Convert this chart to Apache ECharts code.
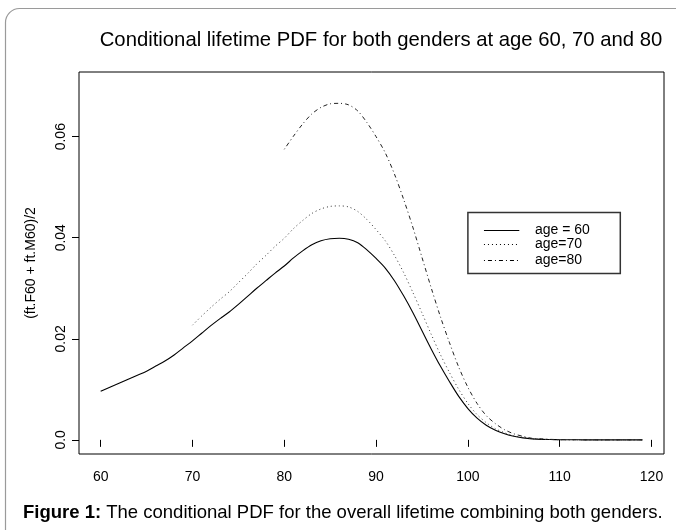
<!DOCTYPE html>
<html><head><meta charset="utf-8">
<script src="https://cdn.jsdelivr.net/npm/echarts@6/dist/echarts.min.js"></script>
<style>html,body{margin:0;padding:0;background:#fff}#c{width:676px;height:530px}</style>
</head><body><div id="c"></div>
<script>
const titleText = 'Conditional lifetime PDF for both genders at age 60, 70 and 80';
const yAxisName = '(ft.F60 + ft.M60)/2';
const captionBold = 'Figure 1:';
const captionRest = ' The conditional PDF for the overall lifetime combining both genders.';
const xTicks = [60, 70, 80, 90, 100, 110, 120];
const yTicks = [0, 0.02, 0.04, 0.06];
const legendNames = ['age = 60', 'age=70', 'age=80'];

const start60 = 60;
const pdf60 = [0.0096,0.0104,0.0112,0.0120,0.0128,0.0136,0.0146,0.0156,0.0168,0.0182,
  0.0196,0.0211,0.0226,0.0240,0.0253,0.0268,0.0284,0.0300,0.0315,0.0330,
  0.0344,0.0360,0.0374,0.0386,0.0394,0.0398,0.0399,0.0397,0.0390,0.0376,
  0.0359,0.0340,0.0315,0.0285,0.0252,0.0216,0.0180,0.0146,0.0115,0.0086,
  0.0062,0.0043,0.0029,0.0019,0.0012,0.0007,0.0004,0.0002,0.0001,0.00006,
  0.00003,0.00002,0.00001,0,0,0,0,0,0,0];
const start70 = 70;
const pdf70 = [0.0227,0.0245,0.0262,0.0278,0.0293,0.0311,0.0329,0.0348,0.0365,0.0383,
  0.0399,0.0418,0.0434,0.0448,0.0457,0.0462,0.0463,0.0461,0.0452,0.0436,
  0.0416,0.0394,0.0365,0.0331,0.0292,0.0251,0.0209,0.0169,0.0133,0.0100,
  0.0072,0.0050,0.0034,0.0022,0.0014,0.0008,0.0005,0.0002,0.0001,0.00007,
  0.00003,0.00002,0.00001,0,0,0,0,0,0,0];
const start80 = 80;
const pdf80 = [0.0575,0.0601,0.0625,0.0645,0.0658,0.0665,0.0666,0.0663,0.0651,0.0628,
  0.0600,0.0568,0.0526,0.0476,0.0421,0.0361,0.0301,0.0244,0.0192,0.0144,
  0.0104,0.0072,0.0048,0.0032,0.0020,0.0012,0.0007,0.0003,0.0002,0.0001,
  0.00005,0.00003,0.00002,0,0,0,0,0,0,0];

function toPairs(start, arr){ return arr.map((v,i)=>[start+i, v]); }

const FONT = '"Liberation Sans", Arial, sans-serif';
const dotted = [1, 3];
const dotdash = [1, 3, 4, 3];

const chart = echarts.init(document.getElementById('c'), null, {renderer:'canvas'});
const option = {
  animation: false,
  backgroundColor: '#fff',
  title: {
    text: titleText, left: 376, top: 25, textAlign: 'center',
    textStyle: {fontFamily: FONT, fontSize: 20.3, fontWeight: 'normal', color: '#000'}
  },
  grid: {left: 79, right: 12, top: 72, bottom: 76, show: true, borderColor: '#000', borderWidth: 1, backgroundColor: 'transparent'},
  xAxis: {
    type: 'value', min: 57.64, max: 121.36,
    axisLine: {show: false},
    splitLine: {show: false},
    axisTick: {show: true, customValues: xTicks, length: 7, inside: false, lineStyle: {color: '#000'}},
    axisLabel: {customValues: xTicks, margin: 16, fontFamily: FONT, fontSize: 14, color: '#000'}
  },
  yAxis: {
    type: 'value', min: -0.0028, max: 0.0728,
    name: yAxisName, nameLocation: 'middle', nameGap: 41, nameRotate: 90,
    nameTextStyle: {fontFamily: FONT, fontSize: 14, color: '#000'},
    axisLine: {show: false},
    splitLine: {show: false},
    axisTick: {show: true, customValues: yTicks, length: 7, inside: false, lineStyle: {color: '#000'}},
    axisLabel: {customValues: yTicks, rotate: 90, margin: 11, fontFamily: FONT, fontSize: 14, color: '#000',
      formatter: v => (v === 0 ? '0.0' : v.toFixed(2))}
  },
  series: [
    {name: legendNames[0], type: 'line', data: toPairs(start60, pdf60), showSymbol: false, smooth: 0.3,
      lineStyle: {color: '#000', width: 1.1, type: 'solid'}},
    {name: legendNames[1], type: 'line', data: toPairs(start70, pdf70), showSymbol: false, smooth: 0.3,
      lineStyle: {color: '#333', width: 1, type: dotted}},
    {name: legendNames[2], type: 'line', data: toPairs(start80, pdf80), showSymbol: false, smooth: 0.3,
      lineStyle: {color: '#222', width: 1, type: dotdash}}
  ]
};
chart.setOption(option);

// legend, frame and caption as graphics positioned via the axes
const p = (x, y) => chart.convertToPixel({gridIndex: 0}, [x, y]);
const lgTL = p(100, 0.045), lgBR = p(116.6, 0.0329);
const rowsY = [0.0416, 0.0388, 0.0356];
const styles = ['solid', dotted, dotdash];
const g = [
  {type: 'rect', shape: {x: 5.5, y: 8.5, width: 720, height: 600, r: 14}, style: {fill: 'none', stroke: '#9a9a9a', lineWidth: 1.2}, z: 0},
  {type: 'rect', shape: {x: lgTL[0], y: lgTL[1], width: lgBR[0]-lgTL[0], height: lgBR[1]-lgTL[1]},
    style: {fill: '#fff', stroke: '#333', lineWidth: 1.5}, z: 10},
  {type: 'text', x: 23, y: 513, style: {
    text: '{b|' + captionBold + '}{n|' + captionRest + '}', verticalAlign: 'middle',
    rich: {b: {fontFamily: FONT, fontSize: 18.5, fontWeight: 'bold', fill: '#000'},
           n: {fontFamily: FONT, fontSize: 18.5, fill: '#000'}}}, z: 10}
];
rowsY.forEach((yv, i) => {
  const a = p(101.75, yv), b = p(105.6, yv), t = p(107.3, yv);
  g.push({type: 'line', shape: {x1: a[0], y1: Math.round(a[1])+0.5, x2: b[0], y2: Math.round(a[1])+0.5},
    style: {stroke: '#000', lineWidth: 1, lineDash: styles[i] === 'solid' ? null : styles[i]}, z: 11});
  g.push({type: 'text', x: t[0], y: t[1], style: {text: legendNames[i], fontFamily: FONT, fontSize: 14, fill: '#000', verticalAlign: 'middle'}, z: 11});
});
chart.setOption({graphic: g});
</script></body></html>
